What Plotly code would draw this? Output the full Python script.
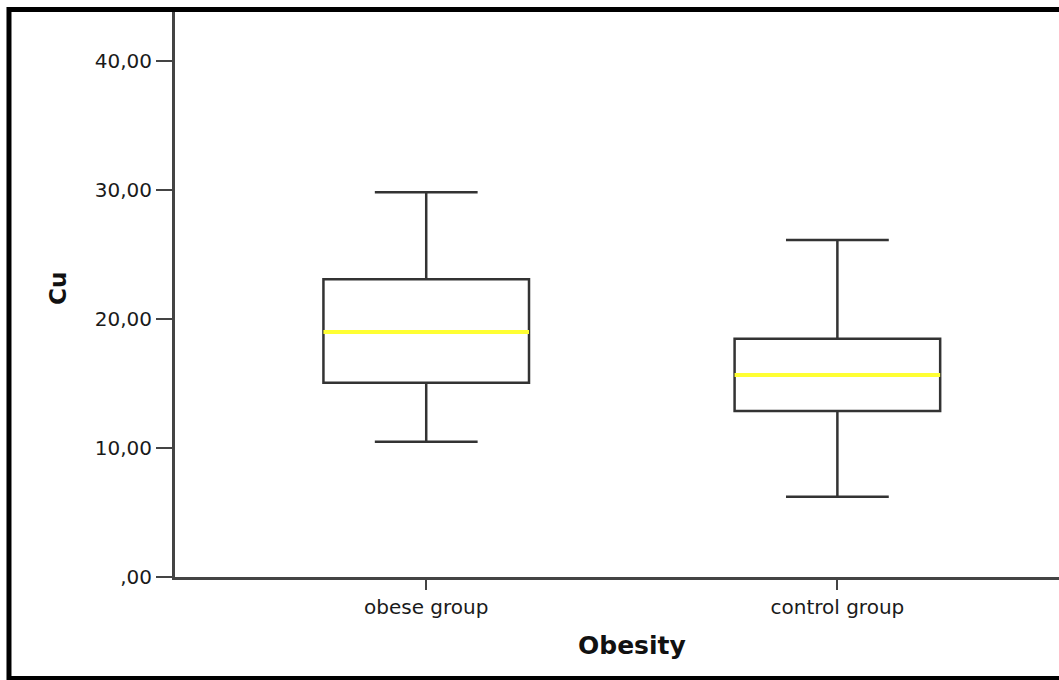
import plotly.graph_objects as go

# ---- data ----
categories = ["obese group", "control group"]
lower_whisker = [10.49, 6.22]
q1_values = [15.06, 12.87]
medians = [18.99, 15.66]
q3_values = [23.08, 18.47]
upper_whisker = [29.82, 26.12]
y_tick_values = [0, 10, 20, 30, 40]
y_tick_labels = [",00", "10,00", "20,00", "30,00", "40,00"]
x_title = "Obesity"
y_title = "Cu"

# ---- styling ----
BOX_W = 0.5
LINE_C = "#333333"
AXIS_C = "#444444"
MED_C = "#ffff33"
FONT = "DejaVu Sans"
TXT_C = "#1a1a1a"

fig = go.Figure()
positions = list(range(len(categories)))
for i, cat in enumerate(categories):
    fig.add_trace(go.Box(
        x=[positions[i]],
        q1=[q1_values[i]], median=[medians[i]], q3=[q3_values[i]],
        lowerfence=[lower_whisker[i]], upperfence=[upper_whisker[i]],
        width=BOX_W, whiskerwidth=0.5,
        fillcolor="white", line=dict(color=LINE_C, width=2.5),
        boxpoints=False, name=cat, showlegend=False, hoverinfo="skip",
    ))
for i, cat in enumerate(categories):
    fig.add_trace(go.Scatter(
        x=[positions[i] - BOX_W / 2, positions[i] + BOX_W / 2],
        y=[medians[i], medians[i]],
        mode="lines", line=dict(color=MED_C, width=4),
        showlegend=False, hoverinfo="skip",
    ))

fig.update_layout(
    width=1059, height=680,
    margin=dict(l=175, r=0, t=12, b=103),
    paper_bgcolor="white", plot_bgcolor="white",
    font=dict(family=FONT, color=TXT_C),
    xaxis=dict(
        range=[-0.611, 1.539], tickvals=positions, ticktext=categories,
        showgrid=False, zeroline=False, showline=True, linecolor=AXIS_C, linewidth=3,
        ticks="outside", ticklen=10, tickwidth=2, tickcolor=AXIS_C,
        tickfont=dict(family=FONT, size=20, color=TXT_C),
    ),
    yaxis=dict(
        range=[0, 43.8], tickvals=y_tick_values, ticktext=y_tick_labels,
        showgrid=False, zeroline=False, showline=True, linecolor=AXIS_C, linewidth=3,
        ticks="outside", ticklen=16, tickwidth=2, tickcolor=AXIS_C,
        tickfont=dict(family=FONT, size=20, color=TXT_C),
    ),
    annotations=[
        dict(text=y_title, xref="paper", yref="paper", x=-0.1324, y=0.5115,
             textangle=-90, showarrow=False, xanchor="center", yanchor="middle",
             font=dict(family=FONT, size=23, color="#111111", weight="bold")),
        dict(text=x_title, xref="paper", yref="paper", x=0.517, y=-0.1204,
             showarrow=False, xanchor="center", yanchor="middle",
             font=dict(family=FONT, size=25, color="#111111", weight="bold")),
    ],
    shapes=[
        dict(type="rect", xref="paper", yref="paper",
             x0=-0.1878, x1=1.05, y0=-0.1796, y1=1.0044,
             line=dict(color="black", width=5), fillcolor="rgba(0,0,0,0)", layer="above"),
    ],
)

fig.write_html("out.html", config={"displayModeBar": False},
               post_script="document.body.style.margin='0px';document.body.style.overflow='hidden';")
